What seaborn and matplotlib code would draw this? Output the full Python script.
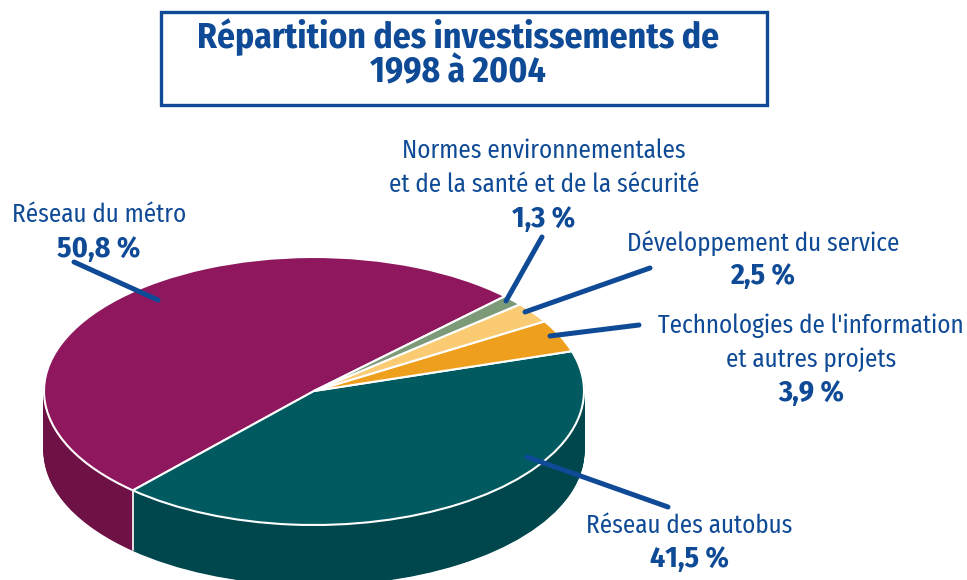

# Repartition des investissements - 3D style pie
import numpy as np
import seaborn as sns
import matplotlib.pyplot as plt
import matplotlib.font_manager as fm
from matplotlib.patches import Rectangle

# -----------------------------
# Data
# -----------------------------
categories = ["Réseau du métro", "Réseau des autobus", "Technologies de l'information",
              "Développement du service", "Normes environnementales"]
shares = [50.8, 41.5, 3.9, 2.5, 1.3]
top_colors = ["#8f175d", "#005a60", "#ee9f1e", "#fbcb74", "#7d9a78"]
side_colors = ["#6e1246", "#00474d", "#b87a14", "#c29c58", "#5f755b"]

BLUE = "#0f4a96"
W, H = 967, 580
CX, CY, RX, RY = 314, 391, 270, 134
DEPTH = 60
START = 45

sns.set_theme(style="white")

# condensed face if the machine has it, otherwise smaller Liberation Sans
installed = {f.name for f in fm.fontManager.ttflist}
if "Fira Sans Condensed" in installed:
    plt.rcParams["font.family"] = ["Fira Sans Condensed", "DejaVu Sans"]
    TITLE_SIZE, LABEL_SIZE, BOLD_SIZE = 25.5, 18.1, 21.5
else:
    plt.rcParams["font.family"] = ["Liberation Sans", "DejaVu Sans"]
    TITLE_SIZE, LABEL_SIZE, BOLD_SIZE = 22.4, 16.5, 18

fig = plt.figure(figsize=(W / 100, H / 100), dpi=100)

# -----------------------------
# Pie: axes stretched so the circle becomes an ellipse
# -----------------------------
ax = fig.add_axes([0, 0, 1, 1])
offsets = np.arange(DEPTH, 0, -1.0) / RY
for off in offsets:
    ax.pie(shares, colors=side_colors, startangle=START, counterclock=True,
           center=(0, -off), frame=True, wedgeprops={"linewidth": 0.8})
    for w, c in zip(ax.patches[-len(shares):], side_colors):
        w.set_edgecolor(c)

ax.pie(shares, colors=top_colors, startangle=START, counterclock=True, frame=True,
       wedgeprops={"linewidth": 1.5, "edgecolor": "white"})

# white seam on the side wall, where metro meets bus
seam = np.deg2rad(START + shares[0] * 3.6)
ax.plot([np.cos(seam)] * 2, [np.sin(seam), np.sin(seam) - DEPTH / RY], color="#f4eef2", lw=1.3)

ax.set_aspect("auto")
ax.set_xlim(-CX / RX, (W - CX) / RX)
ax.set_ylim((CY - H) / RY, CY / RY)
ax.axis("off")

# -----------------------------
# Overlay in pixel coordinates: title box, leaders, labels
# -----------------------------
ov = fig.add_axes([0, 0, 1, 1], facecolor="none")
ov.set_xlim(0, W)
ov.set_ylim(H, 0)
ov.axis("off")

ov.add_patch(Rectangle((161, 12), 606, 93, fill=False, edgecolor=BLUE, linewidth=2.4))
ov.text(458, 37, "Répartition des investissements de", ha="center", va="center",
        fontsize=TITLE_SIZE, fontweight="bold", color=BLUE)
ov.text(458, 73, "1998 à 2004", ha="center", va="center",
        fontsize=TITLE_SIZE, fontweight="bold", color=BLUE)

leaders = [((74, 262), (158, 300)), ((668, 507), (527, 457)), ((639, 325), (550, 336)),
           ((650, 268), (525, 312)), ((542, 237), (506, 301))]
for (x0, y0), (x1, y1) in leaders:
    ov.plot([x0, x1], [y0, y1], color=BLUE, lw=3.6, solid_capstyle="round")

labels = [
    (99, 215, "Réseau du métro", False),
    (99, 249, "50,8 %", True),
    (689, 526, "Réseau des autobus", False),
    (689, 559, "41,5 %", True),
    (811, 326, "Technologies de l'information", False),
    (811, 360, "et autres projets", False),
    (811, 393, "3,9 %", True),
    (763, 243, "Développement du service", False),
    (763, 276, "2,5 %", True),
    (544, 151, "Normes environnementales", False),
    (544, 185, "et de la santé et de la sécurité", False),
    (544, 219, "1,3 %", True),
]
for x, y, txt, bold in labels:
    ov.text(x, y, txt, ha="center", va="center", color=BLUE,
            fontsize=BOLD_SIZE if bold else LABEL_SIZE, fontweight="bold" if bold else "normal")

fig.savefig("out.png", dpi=100, facecolor="white")
plt.close(fig)
